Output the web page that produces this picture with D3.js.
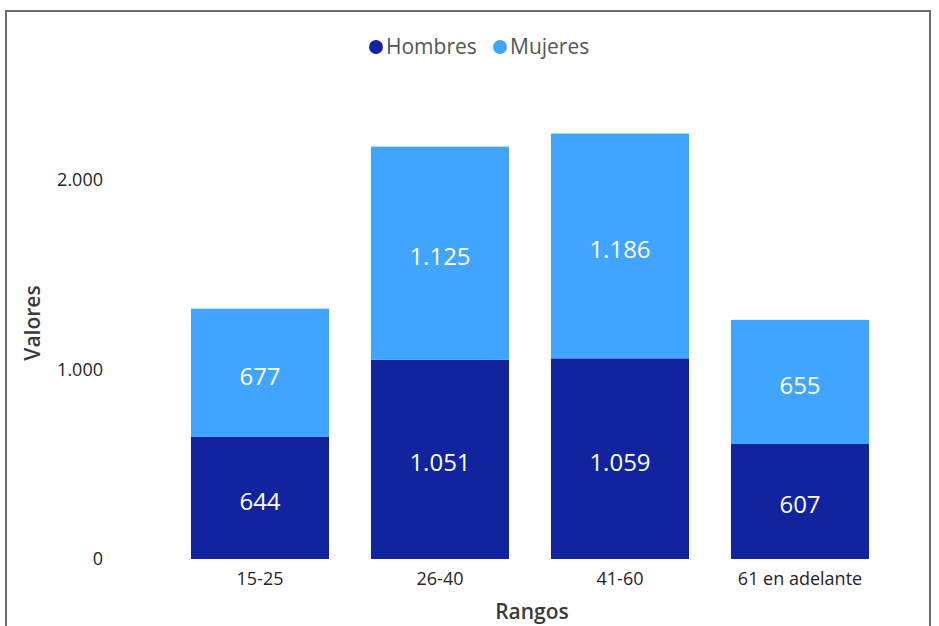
<!DOCTYPE html>
<html><head><meta charset="utf-8">
<script src="https://cdn.jsdelivr.net/npm/d3@7"></script>
<style>body{margin:0;background:#fff}svg{display:block}</style>
</head><body>
<svg id="c" width="939" height="626"></svg>
<script>
const categories = ["15-25", "26-40", "41-60", "61 en adelante"];
const hombres = [644, 1051, 1059, 607];
const mujeres = [677, 1125, 1186, 655];
const seriesNames = ["Hombres", "Mujeres"];
const yTicks = [0, 1000, 2000];

const colors = {Hombres: "#12239E", Mujeres: "#41A4FF"};
const fmt = v => d3.format(",")(v).replace(/,/g, ".");
const font = "'Open Sans', 'Noto Sans', sans-serif";

const svg = d3.select("#c");
svg.append("rect").attr("x", 6).attr("y", 11).attr("width", 924).attr("height", 640)
  .attr("fill", "none").attr("stroke", "#6b6b6b").attr("stroke-width", 2);

const rows = categories.map((c, i) => ({cat: c, Hombres: hombres[i], Mujeres: mujeres[i]}));
const stacked = d3.stack().keys(seriesNames)(rows);

const x = d3.scaleBand().domain(categories).range([170, 890]).paddingInner(0.233).paddingOuter(0.1165);
const y = d3.scaleLinear().domain([0, 2000]).range([559, 180]);

// y axis labels
const yAxis = svg.append("g").attr("transform", "translate(103,0)")
  .call(d3.axisLeft(y).tickValues(yTicks).tickFormat(fmt).tickSize(0).tickPadding(0));
yAxis.select(".domain").remove();
yAxis.selectAll("text").attr("font-family", font).attr("font-size", 18).attr("fill", "#252423");

// x axis labels
const xAxis = svg.append("g").attr("transform", "translate(0,559)")
  .call(d3.axisBottom(x).tickSize(0).tickPadding(13));
xAxis.select(".domain").remove();
xAxis.selectAll("text").attr("font-family", font).attr("font-size", 18).attr("fill", "#252423");

// bars
const g = svg.append("g");
stacked.forEach(s => {
  g.selectAll(null).data(s).enter().append("rect")
    .attr("x", d => x(d.data.cat)).attr("width", x.bandwidth())
    .attr("y", d => y(d[1])).attr("height", d => y(d[0]) - y(d[1]))
    .attr("fill", colors[s.key]);
  g.selectAll(null).data(s).enter().append("text")
    .attr("x", d => x(d.data.cat) + x.bandwidth() / 2)
    .attr("y", d => (y(d[0]) + y(d[1])) / 2)
    .attr("dy", "0.5em").attr("text-anchor", "middle")
    .attr("font-family", font).attr("font-size", 24).attr("fill", "#fff")
    .text(d => fmt(d[1] - d[0]));
});

// axis titles
svg.append("text").attr("x", 532).attr("y", 619).attr("text-anchor", "middle")
  .attr("font-family", font).attr("font-size", 21).attr("font-weight", 600).attr("fill", "#3a3a3a").text("Rangos");
svg.append("text").attr("transform", "translate(40,323) rotate(-90)").attr("text-anchor", "middle")
  .attr("font-family", font).attr("font-size", 21).attr("font-weight", 600).attr("fill", "#3a3a3a").text("Valores");

// legend
const leg = svg.append("g");
const legItems = [{k: "Hombres", cx: 376, tx: 386}, {k: "Mujeres", cx: 500, tx: 510}];
legItems.forEach(it => {
  leg.append("circle").attr("cx", it.cx).attr("cy", 47).attr("r", 7).attr("fill", colors[it.k]);
  leg.append("text").attr("x", it.tx).attr("y", 47).attr("dy", "0.35em")
    .attr("font-family", font).attr("font-size", 21).attr("fill", "#555").text(it.k);
});
</script>
</body></html>
